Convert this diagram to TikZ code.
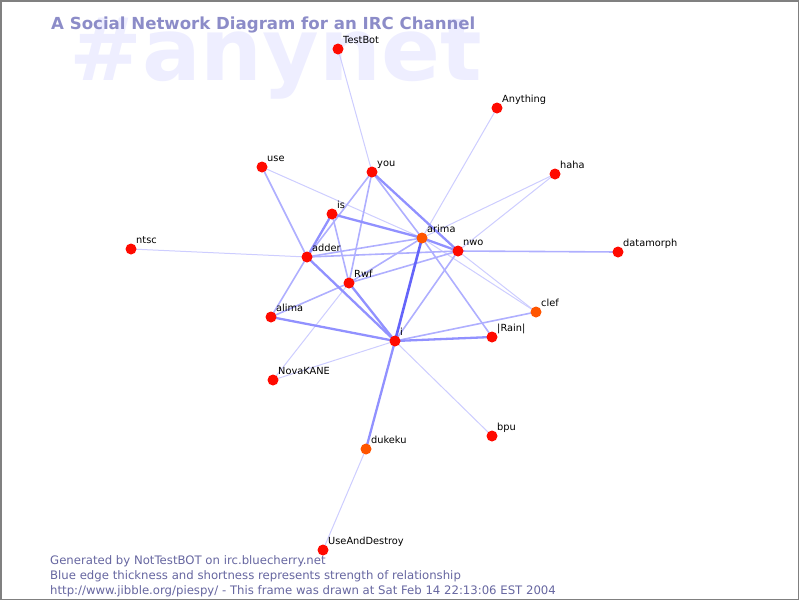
\documentclass[tikz,border=0pt]{standalone}
\usepackage{fontspec}
\setmainfont{DejaVu Sans}
\definecolor{ghost}{RGB}{238,238,255}
\definecolor{titlecol}{RGB}{140,140,200}
\definecolor{footcol}{RGB}{102,102,160}
\definecolor{edgeA}{RGB}{205,205,255}
\definecolor{edgeB}{RGB}{175,175,255}
\definecolor{edgeC}{RGB}{145,145,255}
\definecolor{edgeD}{RGB}{100,100,250}
\definecolor{nodered}{RGB}{255,10,0}
\definecolor{nodeorange}{RGB}{255,85,0}
\begin{document}
\begin{tikzpicture}[x=1pt,y=-1pt,
  dot/.style={circle,fill=nodered,minimum size=11pt,inner sep=0pt},
  dotb/.style={dot,fill=nodeorange},
  lbl/.style={anchor=base west,inner sep=0pt,font=\fontsize{9.8}{11}\selectfont},
  foot/.style={anchor=base west,inner sep=0pt,text=footcol,font=\fontsize{11.7}{14}\selectfont},
  faint/.style={edgeA,line width=1pt},
  mid/.style={edgeB,line width=1.6pt},
  heavy/.style={edgeC,line width=2.3pt},
  strong/.style={edgeD,line width=2.6pt}]
\useasboundingbox (0,0) rectangle (800,600);
\draw[gray,line width=1.5pt] (0.75,0.75) rectangle (798.5,599.25);
% watermark and title
\node[anchor=base west,inner sep=0pt,text=ghost,font=\fontsize{87}{87}\selectfont\bfseries] at (69,80) {\#anynet};
\node[anchor=base west,inner sep=0pt,text=titlecol,font=\fontsize{16.6}{19}\selectfont\bfseries] at (51,29) {A Social Network Diagram for an IRC Channel};
% nicks
\coordinate (testbot) at (338,49);
\coordinate (anything) at (497,108);
\coordinate (haha) at (555,174);
\coordinate (datamorph) at (618,252);
\coordinate (use) at (262,167);
\coordinate (you) at (372,172);
\coordinate (is) at (332,214);
\coordinate (arima) at (422,238);
\coordinate (nwo) at (458,251);
\coordinate (ntsc) at (131,249);
\coordinate (adder) at (307,257);
\coordinate (rwf) at (349,283);
\coordinate (alima) at (271,317);
\coordinate (clef) at (536,312);
\coordinate (rain) at (492,337);
\coordinate (i) at (395,341);
\coordinate (novakane) at (273,380);
\coordinate (bpu) at (492,436);
\coordinate (dukeku) at (366,449);
\coordinate (useanddestroy) at (323,550);
% edges, by strength
\foreach \a/\b in {testbot/you,anything/arima,haha/arima,haha/nwo,ntsc/adder,use/arima,rwf/novakane,i/novakane,i/bpu,dukeku/useanddestroy,arima/clef,nwo/clef}
  \draw[faint] (\a) -- (\b);
\foreach \a/\b in {nwo/datamorph,use/adder,you/adder,you/rwf,you/arima,is/rwf,adder/arima,adder/nwo,adder/alima,rwf/arima,rwf/nwo,rwf/alima,i/clef,arima/rain,nwo/i}
  \draw[mid] (\a) -- (\b);
\foreach \a/\b in {you/nwo,is/arima,is/adder,adder/i,rwf/i,alima/i,i/rain,i/dukeku,arima/nwo}
  \draw[heavy] (\a) -- (\b);
\draw[strong] (arima) -- (i);
% dots and names
\foreach \n in {testbot,anything,haha,datamorph,use,you,is,nwo,ntsc,adder,rwf,alima,rain,i,novakane,bpu,useanddestroy}
  \node[dot] (\n dot) at (\n) {};
\foreach \n in {arima,clef,dukeku}
  \node[dotb] (\n dot) at (\n) {};
\foreach \n/\t in {testbot/TestBot,anything/Anything,haha/haha,datamorph/datamorph,use/use,you/you,is/is,arima/arima,nwo/nwo,ntsc/ntsc,adder/adder,rwf/Rwf,alima/alima,clef/clef,rain/{|Rain|},i/i,novakane/NovaKANE,bpu/bpu,dukeku/dukeku,useanddestroy/UseAndDestroy}
  \path (\n) ++(5,-5.5) node[lbl] (\n lbl) {\t};
% footer
\node[foot] at (50,564) {Generated by NotTestBOT on irc.bluecherry.net};
\node[foot] at (50,579) {Blue edge thickness and shortness represents strength of relationship};
\node[foot] at (50,594) {http://www.jibble.org/piespy/ - This frame was drawn at Sat Feb 14 22:13:06 EST 2004};
\end{tikzpicture}
\end{document}
